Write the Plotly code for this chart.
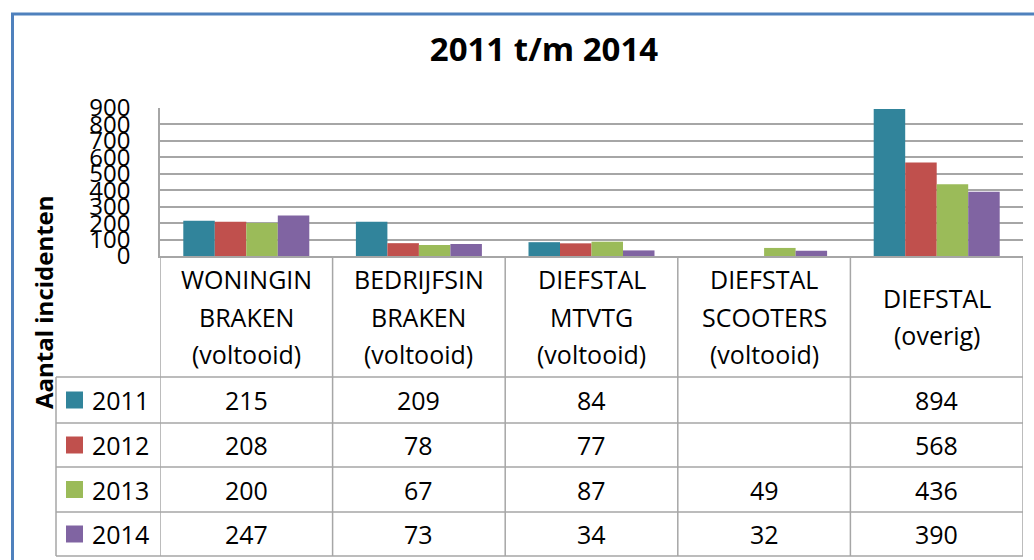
import plotly.graph_objects as go

# ---- data ----
categories = ["WONINGIN<br>BRAKEN<br>(voltooid)",
              "BEDRIJFSIN<br>BRAKEN<br>(voltooid)",
              "DIEFSTAL<br>MTVTG<br>(voltooid)",
              "DIEFSTAL<br>SCOOTERS<br>(voltooid)",
              "DIEFSTAL<br>(overig)"]
years = ["2011", "2012", "2013", "2014"]
values_2011 = [215, 209, 84, None, 894]
values_2012 = [208, 78, 77, None, 568]
values_2013 = [200, 67, 87, 49, 436]
values_2014 = [247, 73, 34, 32, 390]
series_values = [values_2011, values_2012, values_2013, values_2014]
colors = ["#31849B", "#C0504D", "#9BBB59", "#8064A2"]
y_ticks = [0, 100, 200, 300, 400, 500, 600, 700, 800, 900]
title_text = "2011 t/m 2014"
y_title = "Aantal incidenten"

# ---- geometry (pixels) ----
W, H = 1034, 560
L, R, T, B = 160, 1023, 108, 256
PW, PH = R - L, B - T
FONT = "Open Sans"
LINE = "#A6A6A6"


def px(x):
    return (x - L) / PW


def py(y):
    return (B - y) / PH


fig = go.Figure()
xs = list(range(len(categories)))
for name, vals, col in zip(years, series_values, colors):
    fig.add_trace(go.Bar(x=xs, y=vals, name=name, marker_color=col,
                         marker_line_width=0, showlegend=False))

shapes = []
annotations = []

# outer blue frame
shapes.append(dict(type="rect", xref="paper", yref="paper",
                   x0=px(12.5), x1=px(1060), y0=py(14), y1=py(600),
                   line=dict(color="#4F81BD", width=3), layer="below"))

# table geometry
header_bottom = 377
row_edges = [377, 423, 467, 512, 556]
legend_left = 56

for ye in row_edges:
    shapes.append(dict(type="line", xref="paper", yref="paper",
                       x0=px(legend_left), x1=1, y0=py(ye), y1=py(ye),
                       line=dict(color=LINE, width=1.5)))
for k in range(len(categories) + 1):
    shapes.append(dict(type="line", xref="x", yref="paper",
                       x0=k - 0.5, x1=k - 0.5, y0=0, y1=py(row_edges[-1]),
                       line=dict(color=LINE, width=1.5)))
shapes.append(dict(type="line", xref="paper", yref="paper",
                   x0=px(legend_left), x1=px(legend_left),
                   y0=py(row_edges[0]), y1=py(row_edges[-1]),
                   line=dict(color=LINE, width=1.5)))

# header text, line by line
line_gap = 37.5
hdr_center = (B + header_bottom) / 2
for k, cat in enumerate(categories):
    lines = cat.split("<br>")
    n = len(lines)
    for i, ln in enumerate(lines):
        yc = hdr_center + (i - (n - 1) / 2) * line_gap
        annotations.append(dict(x=k, xref="x", y=py(yc), yref="paper",
                                text=ln, showarrow=False, xanchor="center",
                                yanchor="middle",
                                font=dict(family=FONT, size=25, color="#000")))

# data rows with legend keys
for r, (name, vals, col) in enumerate(zip(years, series_values, colors)):
    yc = (row_edges[r] + row_edges[r + 1]) / 2
    shapes.append(dict(type="rect", xref="paper", yref="paper",
                       x0=px(66), x1=px(83), y0=py(yc - 8.5), y1=py(yc + 8.5),
                       fillcolor=col, line=dict(width=0)))
    annotations.append(dict(x=px(90), xref="paper", y=py(yc), yref="paper",
                            text=name, showarrow=False, xanchor="left",
                            yanchor="middle",
                            font=dict(family=FONT, size=25, color="#000")))
    for k, v in enumerate(vals):
        if v is None:
            continue
        annotations.append(dict(x=k, xref="x", y=py(yc), yref="paper",
                                text=str(v), showarrow=False, xanchor="center",
                                yanchor="middle",
                                font=dict(family=FONT, size=25, color="#000")))

# y-axis title
annotations.append(dict(x=px(43), xref="paper", y=py(302), yref="paper",
                        text="<b>" + y_title + "</b>", showarrow=False,
                        textangle=-90, xanchor="center", yanchor="middle",
                        font=dict(family=FONT, size=24, color="#000")))

fig.update_layout(
    width=W, height=H,
    margin=dict(l=L, r=W - R, t=T, b=H - B, autoexpand=False),
    paper_bgcolor="white", plot_bgcolor="white",
    title=dict(text="<b>" + title_text + "</b>", x=544 / W, y=1 - 49 / H,
               xanchor="center", yanchor="middle",
               font=dict(family=FONT, size=33, color="#000")),
    barmode="group", bargap=0.27, bargroupgap=0,
    shapes=shapes, annotations=annotations,
    xaxis=dict(range=[-0.5, len(categories) - 0.5], showticklabels=False,
               showgrid=False, zeroline=False, showline=True,
               linecolor=LINE, linewidth=1.5, fixedrange=True),
    yaxis=dict(range=[0, 900], tickvals=y_ticks, showgrid=True,
               gridcolor=LINE, gridwidth=1.5, zeroline=False,
               showline=True, linecolor=LINE, linewidth=1.5,
               ticks="", ticklabelstandoff=23, automargin=False,
               tickfont=dict(family=FONT, size=24, color="#000")),
    font=dict(family=FONT),
)

fig.write_html(
    "out.html",
    config={"displayModeBar": False},
    post_script="document.body.style.margin='0';document.body.style.overflow='hidden';",
)
